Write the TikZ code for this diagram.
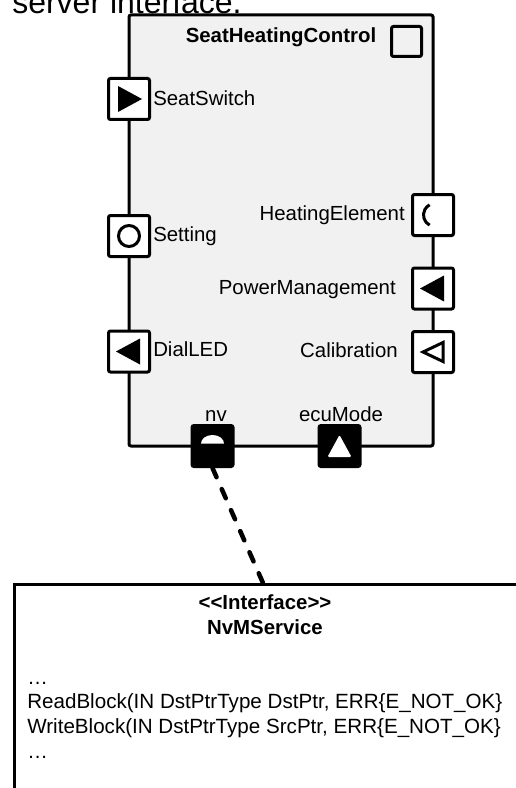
\documentclass[tikz,border=0pt]{standalone}
\usepackage{fontspec}
\setmainfont{Liberation Sans}
\definecolor{compgray}{HTML}{F1F1F1}
\begin{document}
\begin{tikzpicture}[x=0.75pt,y=-0.75pt,
  lab/.style={font=\fontsize{15.3pt}{18pt}\selectfont, inner sep=0pt},
  blab/.style={font=\fontsize{15.3pt}{18pt}\selectfont\bfseries, inner sep=0pt},
  olab/.style={font=\fontsize{15.45pt}{18pt}\selectfont, inner sep=0pt},
  port/.style={draw, fill=white, line width=2.25pt, rounded corners=1.5pt, minimum size=30.75pt, inner sep=0pt},
  bport/.style={port, fill=black},
  sym/.style={line width=2.25pt},
  dashline/.style={line width=3.4pt, dash pattern=on 7.5pt off 9.75pt, line cap=round}]
\useasboundingbox (0,0) rectangle (516,788);
\clip (0,0) rectangle (516,788);

% cut-off heading text
\node[anchor=base west, inner sep=0pt, font=\fontsize{24pt}{28pt}\selectfont] (title) at (12,14) {server interface.};

% component
\node[draw, fill=compgray, line width=2.25pt, rounded corners=1.5pt, minimum width=228pt, minimum height=323.25pt, inner sep=0pt] (comp) at (281,230.5) {};
\node[blab, anchor=base] (cname) at (281,43) {SeatHeatingControl};
\node[draw, line width=2.25pt, rounded corners=1.5pt, minimum size=22.5pt, inner sep=0pt] (icon) at (406.5,41.5) {};

% ports
\node[port] (sw) at (129,99) {};
\node[port] (set) at (129,236) {};
\node[port] (dial) at (129,351.5) {};
\node[port] (he) at (433,215) {};
\node[port] (pm) at (433,288.5) {};
\node[port] (cal) at (433,352) {};
\node[bport] (nv) at (212.5,446) {};
\node[bport] (ecu) at (339.5,446) {};

% port symbols
\fill[line join=round, shift={(sw.center)}] (-11,-13) -- (-11,13) -- (13,0) -- cycle;
\draw[sym, shift={(set.center)}] (0,0) circle[radius=10.5];
\fill[line join=round, shift={(dial.center)}] (11,-13) -- (11,13) -- (-13,0) -- cycle;
\draw[sym, shift={(he.center)}] (2,0) ++(118:11.5) arc[start angle=118, end angle=242, radius=11.5];
\fill[line join=round, shift={(pm.center)}] (11,-13) -- (11,13) -- (-13,0) -- cycle;
\draw[sym, shift={(cal.center)}] (-10,0) -- (10,-9.5) -- (10,9.5) -- cycle;
\fill[white, shift={(nv.center)}] (-11.5,-2.5) arc[start angle=180, end angle=360, x radius=11.5, y radius=8.5] -- cycle;
\fill[white, rounded corners=1pt, shift={(ecu.center)}] (0,-11) -- (12,11) -- (-12,11) -- cycle;

% port labels
\node[lab, anchor=base west] (lsw) at (153,106) {SeatSwitch};
\node[lab, anchor=base west] (lset) at (153,241) {Setting};
\node[lab, anchor=base west] (ldial) at (153,356) {DialLED};
\node[lab, anchor=base east] (lhe) at (405,220) {HeatingElement};
\node[lab, anchor=base east] (lpm) at (396,294) {PowerManagement};
\node[lab, anchor=base east] (lcal) at (398,357) {Calibration};
\node[lab, anchor=base] (lnv) at (216,421) {nv};
\node[lab, anchor=base] (lecu) at (341,421) {ecuMode};

% interface box
\node[draw, line width=2.6pt, anchor=north west, minimum width=384pt, minimum height=300pt, inner sep=0pt] (iface) at (13,583) {};
\coordinate (ifc) at (263,583);
\draw[dashline] (nv.south) -- (ifc);

\node[blab, anchor=base] (stereo) at (265,609) {{<}{<}Interface{>}{>}};
\node[blab, anchor=base] (iname) at (265,634) {NvMService};
\node[olab, anchor=base west] (op0) at (27,684) {…};
\node[olab, anchor=base west] (op1) at (27,708) {ReadBlock(IN DstPtrType DstPtr, ERR\{E\_NOT\_OK\}};
\node[olab, anchor=base west] (op2) at (27,733) {WriteBlock(IN DstPtrType SrcPtr, ERR\{E\_NOT\_OK\}};
\node[olab, anchor=base west] (op3) at (27,758) {…};
\end{tikzpicture}
\end{document}
